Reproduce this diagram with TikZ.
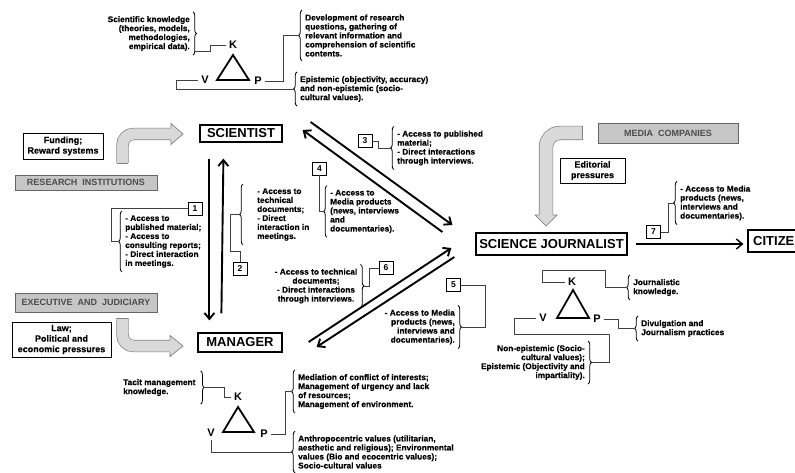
\documentclass[tikz,border=0pt]{standalone}
\usepackage{fontspec}
\setmainfont{Liberation Sans}
\newfontfamily\notefam{Liberation Sans}[FakeBold=0.4]
\usetikzlibrary{arrows.meta, calc, decorations.pathreplacing}
\tikzstyle{actor} = [rectangle, draw, line width=1.2pt, inner sep=0pt, font=\fontsize{13}{15}\selectfont\bfseries]
\tikzstyle{sector} = [rectangle, draw=black!60, fill=gray!45, line width=.7pt, inner sep=0pt, text=black!70, font=\fontsize{9}{10}\selectfont\bfseries]
\tikzstyle{pressure} = [rectangle, draw, line width=.8pt, inner sep=0pt, align=center, font=\notefam\fontsize{9}{10.5}\selectfont\bfseries]
\tikzstyle{num} = [rectangle, draw, line width=.8pt, minimum width=14pt, minimum height=13pt, inner sep=0pt, font=\fontsize{8.5}{9}\selectfont\bfseries]
\tikzstyle{note} = [inner sep=0pt, align=left, font=\notefam\fontsize{8.3}{9}\selectfont\bfseries]
\tikzstyle{kvp} = [inner sep=3pt, font=\fontsize{11}{12}\selectfont\bfseries]
\tikzstyle{tri} = [line width=1.8pt, line join=miter]
\tikzstyle{link} = [line width=.7pt, draw=black!75]
\tikzstyle{brc} = [decorate, decoration={brace, amplitude=3.5pt}, line width=.8pt]
\tikzstyle{flow} = [line width=1.9pt, -{Straight Barb[length=6pt,width=10pt]}]
\tikzstyle{fatshaft} = [draw=black!50, line width=.7pt, double=gray!30, double distance=11pt]
\tikzstyle{fatedge} = [draw=black!50, line width=.7pt]

\begin{document}
\begin{tikzpicture}[x=1pt, y=-1pt]
\useasboundingbox (0,0) rectangle (795,473);
\clip (0,0) rectangle (795,473);

% scientist triangle
\draw[tri] (233,55) -- (249,80) -- (217,80) -- cycle;
\node[kvp] (sK) at (233,45) {K};
\node[kvp] (sV) at (205,80) {V};
\node[kvp] (sP) at (258,81) {P};
\node[note, align=right, anchor=east] (sKnow) at (190,33.5) {Scientific knowledge\\(theories, models,\\methodologies,\\empirical data).};
\node[note, anchor=west] (sDev) at (305,35.5) {Development of research\\questions, gathering of\\relevant information and\\comprehension of scientific\\contents.};
\node[note, anchor=west] (sVal) at (300,89) {Epistemic (objectivity, accuracy)\\and non-epistemic (socio-\\cultural values).};
\draw[brc] ([xshift=3pt,yshift=4pt]sKnow.north east) -- ([xshift=3pt,yshift=-4pt]sKnow.south east);
\draw[brc] ([xshift=-3pt,yshift=-4pt]sDev.south west) -- ([xshift=-3pt,yshift=4pt]sDev.north west);
\draw[brc] ([xshift=-3pt,yshift=-4pt]sVal.south west) -- ([xshift=-3pt,yshift=4pt]sVal.north west);
\draw[link] ([xshift=5pt]sKnow.south east) -- ++(15,0) |- (sK.west);
\draw[link] (sP.east) -- ++(18,0) |- ([xshift=-6.5pt]sDev.west);
\draw[link] (sV.west) -- ++(-22,0) |- ([xshift=-6.5pt]sVal.west);

% actors
\node[actor, minimum width=82pt, minimum height=17pt] (sci) at (241,133.5) {SCIENTIST};
\node[actor, minimum width=84pt, minimum height=19pt] (mgr) at (240,342.5) {MANAGER};
\node[actor, minimum width=151pt, minimum height=22pt] (jour) at (551.5,244) {SCIENCE JOURNALIST};
\node[actor, minimum width=61pt, minimum height=22pt] (cit) at (778.5,241) {CITIZEN};

% research institutions
\node[pressure, minimum width=80pt, minimum height=26pt] (fund) at (63,146) {Funding;\\Reward systems};
\node[sector, minimum width=142pt, minimum height=15pt] (resinst) at (86,182.5) {RESEARCH~~INSTITUTIONS};
\coordinate (fa0) at (122.5,163);
\coordinate (fa1) at (171,134);
\draw[fatshaft, rounded corners=11pt] (fa0) |- (fa1);
\fill[gray!30] ($(fa1)+(0,-10.5)$) -- ($(fa1)+(12,0)$) -- ($(fa1)+(0,10.5)$) -- cycle;
\draw[fatedge] ($(fa1)+(0,-5.9)$) -- ($(fa1)+(0,-10.5)$) -- ($(fa1)+(12,0)$) -- ($(fa1)+(0,10.5)$) -- ($(fa1)+(0,5.9)$);
\draw[fatedge] ($(fa0)+(-5.9,0)$) -- ($(fa0)+(5.9,0)$);

% executive and judiciary
\node[sector, minimum width=142pt, minimum height=19pt] (exec) at (86,302.5) {EXECUTIVE~~AND~~JUDICIARY};
\node[pressure, minimum width=99pt, minimum height=35pt] (law) at (61.5,339.5) {Law;\\Political and\\economic pressures};
\coordinate (fb0) at (122.5,318);
\coordinate (fb1) at (170,346);
\draw[fatshaft, rounded corners=11pt] (fb0) |- (fb1);
\fill[gray!30] ($(fb1)+(0,-10.5)$) -- ($(fb1)+(13,0)$) -- ($(fb1)+(0,10.5)$) -- cycle;
\draw[fatedge] ($(fb1)+(0,-5.9)$) -- ($(fb1)+(0,-10.5)$) -- ($(fb1)+(13,0)$) -- ($(fb1)+(0,10.5)$) -- ($(fb1)+(0,5.9)$);
\draw[fatedge] ($(fb0)+(-5.9,0)$) -- ($(fb0)+(5.9,0)$);

% media companies
\node[sector, minimum width=140pt, minimum height=20pt] (media) at (668,133) {MEDIA~~COMPANIES};
\node[pressure, minimum width=65pt, minimum height=25pt] (edit) at (592.5,170.5) {Editorial\\pressures};
\coordinate (fc0) at (582,133);
\coordinate (fc1) at (546,215);
\draw[fatshaft, double distance=13pt, rounded corners=14pt] (fc0) -| (fc1);
\fill[gray!30] ($(fc1)+(-11,0)$) -- ($(fc1)+(0,11)$) -- ($(fc1)+(11,0)$) -- cycle;
\draw[fatedge] ($(fc1)+(-6.9,0)$) -- ($(fc1)+(-11,0)$) -- ($(fc1)+(0,11)$) -- ($(fc1)+(11,0)$) -- ($(fc1)+(6.9,0)$);
\draw[fatedge] ($(fc0)+(0,-6.9)$) -- ($(fc0)+(0,6.9)$);

% flows between actors
\draw[flow] ([xshift=10pt,yshift=-16pt]sci.south west) -- ([xshift=12pt,yshift=12pt]mgr.north west);
\draw[flow] ([xshift=24pt,yshift=19pt]mgr.north west) -- ([xshift=24pt,yshift=-16pt]sci.south west);
\draw[flow] ($(sci.east)+(28,-11.5)$) -- ($(jour.west)+(-23,-19)$);
\draw[flow] ($(jour.west)+(-33,-12)$) -- ($(sci.east)+(20,-3.5)$);
\draw[flow] ($(mgr.east)+(26,-0.5)$) -- ($(jour.west)+(-24,4)$);
\draw[flow] ($(jour.west)+(-21,13)$) -- ($(mgr.east)+(34,4.5)$);
\draw[flow, line width=1.4pt] ([xshift=8pt]jour.east) -- ($(cit.west |- jour.east)+(-4,0)$);

% numbered channels
\node[num] (n1) at (195,208.5) {1};
\node[note, anchor=west] (t1) at (125,241.5) {- Access to\\published material;\\- Access to\\consulting reports;\\- Direct interaction\\in meetings.};
\draw[brc] ([xshift=-3pt,yshift=-4pt]t1.south west) -- ([xshift=-3pt,yshift=4pt]t1.north west);
\draw[link] (n1.west) -- ++(-76,0) |- ([xshift=-6.5pt]t1.west);

\node[num] (n2) at (240,268.5) {2};
\node[note, anchor=west] (t2) at (257,214.5) {- Access to\\technical\\documents;\\- Direct\\interaction in\\meetings.};
\draw[brc] ([xshift=-14pt,yshift=-4pt]t2.south west) -- ([xshift=-14pt,yshift=4pt]t2.north west);
\draw[link] (n2.north) |- ++(-10,-10) |- ([xshift=-17.5pt]t2.west);

\node[num] (n3) at (365,141) {3};
\node[note, anchor=west] (t3) at (397,148) {- Access to published\\material;\\- Direct interactions\\through interviews.};
\draw[brc] ([xshift=-3pt,yshift=-4pt]t3.south west) -- ([xshift=-3pt,yshift=4pt]t3.north west);
\draw[link] (n3.east) -- ++(6,0) |- ([xshift=-6.5pt]t3.west);

\node[num] (n4) at (319.5,168.5) {4};
\node[note, anchor=west] (t4) at (330,211.5) {- Access to\\Media products\\(news, interviews\\and\\documentaries).};
\draw[brc] ([xshift=-3pt,yshift=-4pt]t4.south west) -- ([xshift=-3pt,yshift=4pt]t4.north west);
\draw[link] (n4.south) |- ([xshift=-6.5pt]t4.west);

\node[num] (n5) at (453.5,285) {5};
\node[note, align=right, anchor=east] (t5) at (455,327) {- Access to Media\\products (news,\\interviews and\\documentaries).};
\draw[brc] ([xshift=3pt,yshift=4pt]t5.north east) -- ([xshift=3pt,yshift=-4pt]t5.south east);
\draw[link] (n5.east) -- ++(24,0) |- ([xshift=6.5pt]t5.east);

\node[num] (n6) at (386,268) {6};
\node[note, align=center] (t6) at (316,286) {- Access to technical\\documents;\\- Direct interactions\\through interviews.};
\draw[brc] ([xshift=3pt,yshift=4pt]t6.north east) -- ([xshift=3pt,yshift=-4pt]t6.south east);
\draw[link] (n6.west) -- ++(-9,0) |- ([xshift=6.5pt]t6.east);

\node[num] (n7) at (653.5,232) {7};
\node[note, anchor=west] (t7) at (680,203) {- Access to Media\\products (news,\\interviews and\\documentaries).};
\draw[brc] ([xshift=-3pt,yshift=-4pt]t7.south west) -- ([xshift=-3pt,yshift=4pt]t7.north west);
\draw[link] (n7.east) -- ++(7,0) |- ([xshift=-6.5pt]t7.west);

% journalist triangle
\draw[tri] (573,290) -- (589,318) -- (557,318) -- cycle;
\node[kvp] (jK) at (572,282) {K};
\node[kvp] (jV) at (543,318) {V};
\node[kvp] (jP) at (597,319) {P};
\node[note, anchor=west] (jKnow) at (633,287.5) {Journalistic\\knowledge.};
\node[note, anchor=west] (jPrac) at (641,328.5) {Divulgation and\\Journalism practices};
\node[note, align=right, anchor=east] (jVal) at (585,362.5) {Non-epistemic (Socio-\\cultural values);\\Epistemic (Objectivity and\\impartiality).};
\draw[brc] ([xshift=-3pt,yshift=-4pt]jKnow.south west) -- ([xshift=-3pt,yshift=4pt]jKnow.north west);
\draw[brc] ([xshift=-3pt,yshift=-4pt]jPrac.south west) -- ([xshift=-3pt,yshift=4pt]jPrac.north west);
\draw[brc] ([xshift=3pt,yshift=4pt]jVal.north east) -- ([xshift=3pt,yshift=-4pt]jVal.south east);
\draw[link] (jK.west) -- ++(-22,0) -- ++(0,-12) -- ++(63,0) |- ([xshift=-6.5pt]jKnow.west);
\draw[link] (jP.east) -- ++(14,0) |- ([xshift=-6.5pt]jPrac.west);
\draw[link] (jV.west) -- ++(-22,0) -- ++(0,16) -- ++(95,0) |- ([xshift=6.5pt]jVal.east);

% manager triangle
\draw[tri] (238,407) -- (254,432) -- (223,432) -- cycle;
\node[kvp] (mK) at (238,397) {K};
\node[kvp] (mV) at (211,433) {V};
\node[kvp] (mP) at (264,434) {P};
\node[note, anchor=west] (mKnow) at (123,387.5) {Tacit management\\knowledge.};
\node[note, anchor=west] (mPrac) at (298,391.5) {Mediation of conflict of interests;\\Management of urgency and lack\\of resources;\\Management of environment.};
\node[note, anchor=west] (mVal) at (298,452) {Anthropocentric values (utilitarian,\\aesthetic and religious); Environmental\\values (Bio and ecocentric values);\\Socio-cultural values};
\draw[brc] ([xshift=5pt,yshift=8pt]mKnow.north east) -- ([xshift=5pt,yshift=-8pt]mKnow.south east);
\draw[brc] ([xshift=-3pt,yshift=-4pt]mPrac.south west) -- ([xshift=-3pt,yshift=4pt]mPrac.north west);
\draw[brc] ([xshift=-3pt,yshift=-4pt]mVal.south west) -- ([xshift=-3pt,yshift=4pt]mVal.north west);
\draw[link] ([xshift=8.5pt]mKnow.east) -- ++(20,0) |- (mK.west);
\draw[link] (mP.east) -- ++(14,0) |- ([xshift=-6.5pt]mPrac.west);
\draw[link] (mV.south) |- ([xshift=-6.5pt]mVal.west);
\end{tikzpicture}
\end{document}
